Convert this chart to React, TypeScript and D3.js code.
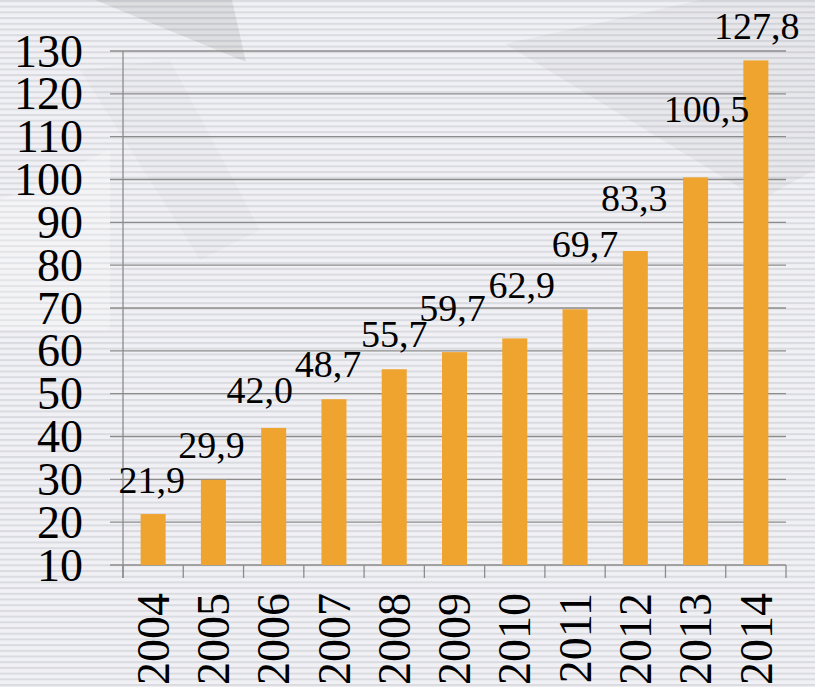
import React from "react";
import * as d3 from "d3";

const years = ["2004", "2005", "2006", "2007", "2008", "2009", "2010", "2011", "2012", "2013", "2014"];
const values = [21.9, 29.9, 42.0, 48.7, 55.7, 59.7, 62.9, 69.7, 83.3, 100.5, 127.8];
const valueLabels = ["21,9", "29,9", "42,0", "48,7", "55,7", "59,7", "62,9", "69,7", "83,3", "100,5", "127,8"];
const yTicks = [10, 20, 30, 40, 50, 60, 70, 80, 90, 100, 110, 120, 130];
// label nudges (layout): [dx, dy] relative to bar center / bar top
const labelNudge: [number, number][] = [
  [-1.5, -21], [-2, -22], [-14, -25], [-6, -22], [0, -22], [-2, -31],
  [7, -40], [10, -52], [-1, -40], [11, -55], [1, -21],
];

const W = 815;
const H = 687;
const plotLeft = 123;
const plotRight = 786;
const plotTop = 51;
const plotBottom = 565;
const font = '"Liberation Serif", "Times New Roman", Times, serif';

export default function App() {
  const x = d3.scaleBand<string>().domain(years).range([plotLeft, plotRight]).paddingInner(0.585).paddingOuter(0.2925);
  const y = d3.scaleLinear().domain([10, 130]).range([plotBottom, plotTop]);
  const step = (plotRight - plotLeft) / years.length;
  const boundaries = d3.range(years.length + 1).map((i) => plotLeft + i * step);
  const textStyle = { fontFamily: font };

  return (
    <svg width={W} height={H} style={{ position: "absolute", left: 0, top: 0 }}>
      <defs>
        <pattern id="stripes" width="10" height="5.7" patternUnits="userSpaceOnUse">
          <rect width="10" height="5.7" fill="#f1f1f5" />
          <rect y="0" width="10" height="2" fill="#dadbe0" />
        </pattern>
      </defs>
      <rect width={W} height={H} fill="url(#stripes)" />
      {/* faint background shapes */}
      <polygon points="95,0 232,0 246,62" fill="#000" opacity="0.08" />
      <polygon points="80,70 170,60 260,230 200,260" fill="#000" opacity="0.02" />
      <polygon points="505,44 700,0 815,0 815,170 760,200" fill="#000" opacity="0.035" />
      <polygon points="0,200 110,150 110,330 0,330" fill="#fff" opacity="0.25" />

      {/* gridlines */}
      {yTicks.map((t) => (
        <line key={t} x1={110} x2={plotRight} y1={y(t)} y2={y(t)} stroke="#8c8c8c" strokeWidth={1.3} />
      ))}
      {/* y axis line */}
      <line x1={plotLeft} x2={plotLeft} y1={plotTop} y2={plotBottom + 13} stroke="#8c8c8c" strokeWidth={1.3} />
      {/* x ticks */}
      {boundaries.map((b, i) => (
        <line key={i} x1={b} x2={b} y1={plotBottom} y2={plotBottom + 13} stroke="#8c8c8c" strokeWidth={1.3} />
      ))}

      {/* bars */}
      {values.map((v, i) => (
        <rect key={years[i]} x={x(years[i])} y={y(v)} width={x.bandwidth()} height={y(10) - y(v)} fill="#efa42f" />
      ))}

      {/* y tick labels */}
      {yTicks.map((t) => (
        <text key={t} x={83} y={y(t)} dy="0.34em" textAnchor="end" style={textStyle} fontSize={46} fill="#000">
          {t}
        </text>
      ))}

      {/* x labels */}
      {years.map((yr) => {
        const cx = (x(yr) as number) + x.bandwidth() / 2;
        return (
          <text
            key={yr}
            transform={`translate(${cx},593) rotate(-90)`}
            dy="0.34em"
            textAnchor="end"
            style={textStyle}
            fontSize={46}
            fill="#000"
          >
            {yr}
          </text>
        );
      })}

      {/* value labels */}
      {values.map((v, i) => {
        const cx = (x(years[i]) as number) + x.bandwidth() / 2 + labelNudge[i][0];
        return (
          <text key={years[i]} x={cx} y={y(v) + labelNudge[i][1]} textAnchor="middle" style={textStyle} fontSize={38} fill="#000">
            {valueLabels[i]}
          </text>
        );
      })}
    </svg>
  );
}
